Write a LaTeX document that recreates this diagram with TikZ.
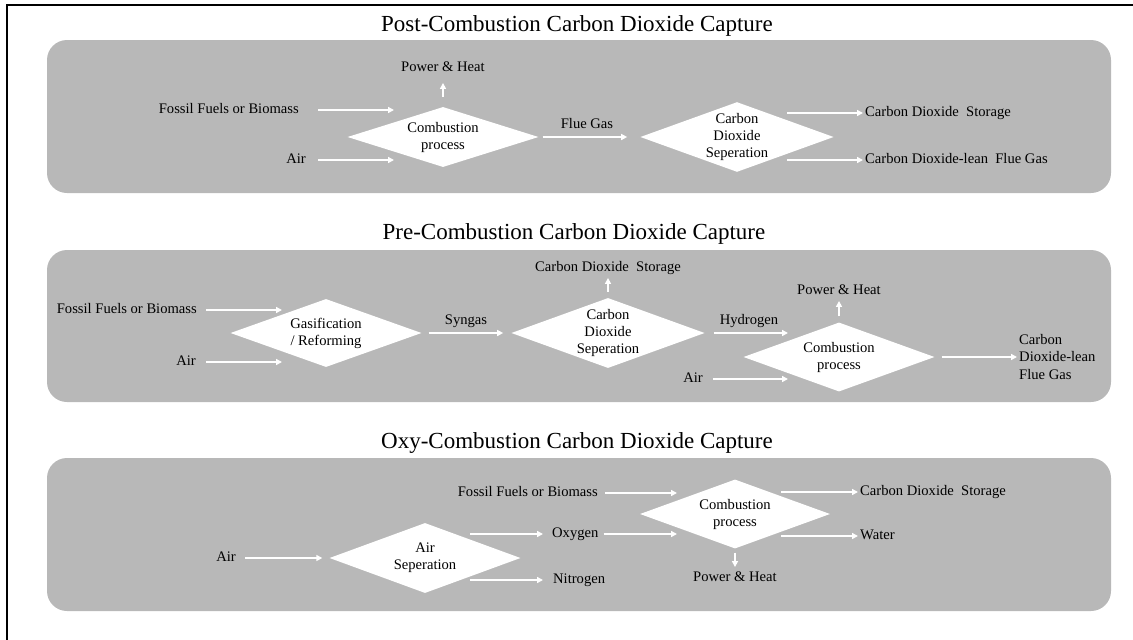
\documentclass[tikz,border=0pt]{standalone}
\usepackage{fontspec}
\setmainfont{Liberation Serif}
\usepackage{xcolor}
\usepackage{tikz}
\usetikzlibrary{shapes,arrows,arrows.meta,positioning,calc}

\definecolor{panelgray}{RGB}{184,184,184}
\newcommand{\lblfont}{\fontsize{14.6pt}{17pt}\selectfont}
\newcommand{\ttlfont}{\fontsize{23pt}{27pt}\selectfont}

\begin{document}
\begin{tikzpicture}[x=1pt, y=-1pt]
    % Define styles
    \tikzstyle{panel} = [fill=panelgray, rounded corners=20pt]
    \tikzstyle{proc} = [diamond, fill=white, aspect=2.77, inner sep=0pt, minimum width=191pt, minimum height=69pt, align=center, font=\lblfont]
    \tikzstyle{lbl} = [inner sep=2pt, text height=10.5pt, text depth=3pt, font=\lblfont]
    \tikzstyle{heading} = [anchor=base, font=\ttlfont]
    \tikzstyle{flow} = [draw=white, line width=1.8pt, -{Triangle[length=6pt, width=6pt]}]

    \useasboundingbox (0,0) rectangle (1133,640);
    \draw[line width=2.5pt] (7,640) -- (7,5) -- (1133,5);

    % Panels
    \fill[panel] (47,40) rectangle (1111,193);
    \fill[panel] (47,250) rectangle (1111,402);
    \fill[panel] (47,458) rectangle (1111,611);

    % Post-combustion
    \node[heading] (title1) at (577,31) {Post-Combustion Carbon Dioxide Capture};
    \node[proc, minimum height=60pt] (comb1) at (443,137) {Combustion\\process};
    \node[proc] (sep1) at (737,137) {Carbon\\Dioxide\\Seperation};
    \node[lbl] (power1) at (443,68) {Power \& Heat};
    \node[lbl, anchor=east] (fuel1) at (301,110) {Fossil Fuels or Biomass};
    \node[lbl, anchor=east] (air1) at (308,160) {Air};
    \node[lbl] (flue1) at (587,125) {Flue Gas};
    \node[lbl, anchor=west] (store1) at (863,113) {Carbon Dioxide\ \ Storage};
    \node[lbl, anchor=west] (lean1) at (863,160) {Carbon Dioxide-lean\ \ Flue Gas};
    \coordinate (fuel1end) at (394,110);
    \coordinate (air1end) at (394,160);
    \coordinate (store1start) at (787,113);
    \coordinate (lean1start) at (787,160);

    \draw[flow, shorten <=17pt] (fuel1) -- (fuel1end);
    \draw[flow, shorten <=10pt] (air1) -- (air1end);
    \draw[flow, shorten <=10pt, shorten >=6pt] (comb1) -- (power1);
    \draw[flow, shorten <=4pt, shorten >=13pt] (comb1) -- (sep1);
    \draw[flow] (store1start) -- (store1);
    \draw[flow] (lean1start) -- (lean1);

    % Pre-combustion
    \node[heading] (title2) at (574,239) {Pre-Combustion Carbon Dioxide Capture};
    \node[proc, minimum height=68pt] (gasif) at (326,333) {Gasification\\/ Reforming};
    \node[proc, minimum width=190pt, minimum height=70pt] (sep2) at (608,333) {Carbon\\Dioxide\\Seperation};
    \node[proc] (comb2) at (839,357) {Combustion\\process};
    \node[lbl, anchor=east] (fuel2) at (199,310) {Fossil Fuels or Biomass};
    \node[lbl, anchor=east] (air2) at (198,362) {Air};
    \node[lbl] (syngas) at (466,321) {Syngas};
    \node[lbl] (store2) at (608,268) {Carbon Dioxide\ \ Storage};
    \node[lbl] (hydrogen) at (749,321) {Hydrogen};
    \node[lbl] (power2) at (839,291) {Power \& Heat};
    \node[lbl, anchor=east] (air3) at (705,379) {Air};
    \node[anchor=west, align=left, inner sep=2pt, font=\fontsize{14.6pt}{17.5pt}\selectfont] (lean2) at (1017,357) {Carbon\\Dioxide-lean\\Flue Gas};
    \coordinate (fuel2end) at (282,310);
    \coordinate (air2end) at (282,362);
    \coordinate (hyd2end) at (788,333);
    \coordinate (air3end) at (788,379);

    \draw[flow, shorten <=7pt] (fuel2) -- (fuel2end);
    \draw[flow, shorten <=8pt] (air2) -- (air2end);
    \draw[flow, shorten <=7pt, shorten >=8pt] (gasif) -- (sep2);
    \draw[flow, shorten <=6pt, shorten >=1pt] (sep2) -- (store2);
    \draw[flow, shorten <=9pt] (sep2) -- (hyd2end);
    \draw[flow, shorten <=6pt, shorten >=1pt] (comb2) -- (power2);
    \draw[flow, shorten <=8pt] (air3) -- (air3end);
    \draw[flow, shorten <=7pt] (comb2) -- (lean2);

    % Oxy-combustion
    \node[heading] (title3) at (577,448) {Oxy-Combustion Carbon Dioxide Capture};
    \node[proc, minimum height=70pt] (airsep) at (425,558) {Air\\Seperation};
    \node[proc, minimum width=190pt] (comb3) at (735,514) {Combustion\\process};
    \node[lbl, anchor=east] (air4) at (238,558) {Air};
    \node[lbl, anchor=west] (oxygen) at (550,534) {Oxygen};
    \node[lbl, anchor=west] (nitrogen) at (551,580) {Nitrogen};
    \node[lbl, anchor=east] (fuel3) at (600,493) {Fossil Fuels or Biomass};
    \node[lbl, anchor=west] (store3) at (858,492) {Carbon Dioxide\ \ Storage};
    \node[lbl, anchor=west] (water) at (858,536) {Water};
    \node[lbl] (power3) at (735,578) {Power \& Heat};
    \coordinate (oxy1start) at (470,534);
    \coordinate (nit1start) at (470,580);
    \coordinate (fuel3end) at (677,493);
    \coordinate (oxy2end) at (677,534);
    \coordinate (store3start) at (781,492);
    \coordinate (water3start) at (781,536);

    \draw[flow, shorten <=7pt, shorten >=7pt] (air4) -- (airsep);
    \draw[flow, shorten >=7pt] (oxy1start) -- (oxygen);
    \draw[flow, shorten >=8pt] (nit1start) -- (nitrogen);
    \draw[flow, shorten <=5pt] (fuel3) -- (fuel3end);
    \draw[flow, shorten <=3pt] (oxygen) -- (oxy2end);
    \draw[flow] (store3start) -- (store3);
    \draw[flow] (water3start) -- (water);
    \draw[flow, shorten <=4pt, shorten >=2pt] (comb3) -- (power3);
\end{tikzpicture}
\end{document}
